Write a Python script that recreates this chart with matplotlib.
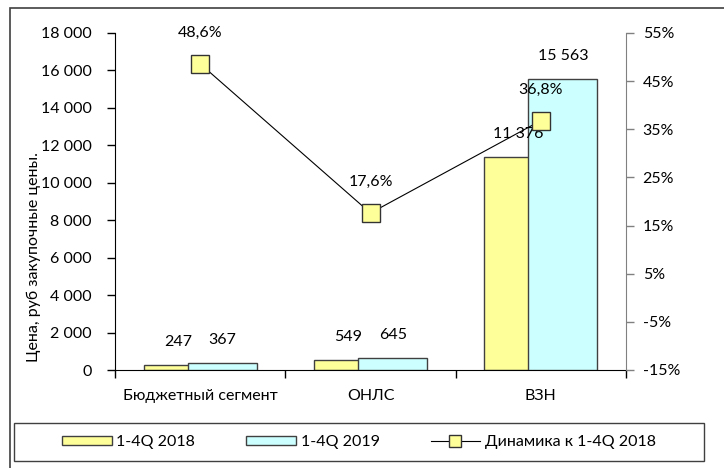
import matplotlib
matplotlib.use("Agg")
import matplotlib.pyplot as plt
from matplotlib.patches import Rectangle, Patch
from matplotlib.lines import Line2D
import numpy as np

plt.rcParams['font.family'] = ['Lato', 'Noto Sans', 'DejaVu Sans']

categories = ["Бюджетный сегмент", "ОНЛС", "ВЗН"]
price_2018 = [247, 549, 11376]
price_2019 = [367, 645, 15563]
dynamics = [48.6, 17.6, 36.8]
price_labels_2018 = ["247", "549", "11 376"]
price_labels_2019 = ["367", "645", "15 563"]
dyn_labels = ["48,6%", "17,6%", "36,8%"]
left_ticks = [0, 2000, 4000, 6000, 8000, 10000, 12000, 14000, 16000, 18000]
left_tick_labels = ["0", "2 000", "4 000", "6 000", "8 000", "10 000", "12 000", "14 000", "16 000", "18 000"]
right_ticks = [-15, -5, 5, 15, 25, 35, 45, 55]
right_tick_labels = ["-15%", "-5%", "5%", "15%", "25%", "35%", "45%", "55%"]
legend_labels = ["1-4Q 2018", "1-4Q 2019", "Динамика к 1-4Q 2018"]

YELLOW = "#FFFF99"
CYAN = "#CCFFFF"
FS = 11.5

fig = plt.figure(figsize=(7.24, 4.68), dpi=100)
W, H = 724, 468
ax = fig.add_axes([115 / W, 1 - 370 / H, (626 - 115) / W, (370 - 33) / H])
ax.patch.set_alpha(0)

x = np.arange(len(categories))
bw = 0.405
off = 0.13
ax.bar(x - off, price_2018, width=bw, color=YELLOW, edgecolor="#404040", linewidth=1, zorder=2)
ax.bar(x + off, price_2019, width=bw, color=CYAN, edgecolor="#404040", linewidth=1, zorder=3)

for xi, v, t in zip(x - off, price_2018, price_labels_2018):
    ax.annotate(t, (xi, v), xytext=(0, 23), textcoords="offset pixels", ha="center", va="center", fontsize=FS, zorder=6)
for xi, v, t in zip(x + off, price_2019, price_labels_2019):
    ax.annotate(t, (xi, v), xytext=(0, 23), textcoords="offset pixels", ha="center", va="center", fontsize=FS, zorder=6)

ax.set_xlim(-0.5, 2.5)
ax.set_ylim(0, 18000)
ax.set_yticks(left_ticks)
ax.set_yticklabels(left_tick_labels, fontsize=FS)
ax.set_xticks([-0.5, 0.5, 1.5, 2.5])
ax.set_xticklabels([])
ax.set_xticks(x, minor=True)
ax.set_xticklabels(categories, minor=True, fontsize=FS)
ax.tick_params(axis="x", which="major", direction="out", length=6, width=1)
ax.tick_params(axis="x", which="minor", length=0, pad=14)
ax.tick_params(axis="y", direction="out", length=6, width=1, pad=11)
ax.spines["top"].set_visible(False)
ax.spines["right"].set_visible(False)
ax.spines["left"].set_color("black")
ax.spines["bottom"].set_color("black")

ax2 = ax.twinx()
ax2.set_ylim(-15, 55)
ax2.plot(x, dynamics, color="black", linewidth=0.8, marker="s", markersize=13,
         markerfacecolor=YELLOW, markeredgecolor="#333333", markeredgewidth=1, zorder=5)
for xi, v, t in zip(x, dynamics, dyn_labels):
    ax2.annotate(t, (xi, v), xytext=(0, 31), textcoords="offset pixels", ha="center", va="center", fontsize=FS)
ax2.set_yticks(right_ticks)
ax2.set_yticklabels(right_tick_labels, fontsize=FS)
ax2.tick_params(axis="y", direction="out", length=6, width=1, color="#808080", pad=6)
for s in ["top", "left", "bottom"]:
    ax2.spines[s].set_visible(False)
ax2.spines["right"].set_color("#808080")

fig.text(34 / W, 1 - 257 / H, "Цена, руб закупочные цены.", rotation=90, ha="center", va="center", fontsize=FS)

# outer frame
fig.patches.append(Rectangle((10 / W, -0.1), 1.2, 1 - 8 / H + 0.1, transform=fig.transFigure,
                             fill=False, edgecolor="#404040", linewidth=1.2))
# legend frame
fig.patches.append(Rectangle((14 / W, 1 - 461 / H), (704 - 14) / W, (461 - 423) / H, transform=fig.transFigure,
                             fill=False, edgecolor="#404040", linewidth=1))

handles = [Patch(facecolor=YELLOW, edgecolor="#404040"),
           Patch(facecolor=CYAN, edgecolor="#404040"),
           Line2D([], [], color="black", linewidth=0.8, marker="s", markersize=9,
                  markerfacecolor=YELLOW, markeredgecolor="#333333")]
leg = fig.legend(handles, legend_labels, ncol=3, loc="center", bbox_to_anchor=(359 / W, 1 - 442 / H),
                 frameon=False, fontsize=FS, handlelength=3.1, handleheight=0.5, handletextpad=0.3,
                 columnspacing=3.2)

fig.savefig("out.png", dpi=100)
